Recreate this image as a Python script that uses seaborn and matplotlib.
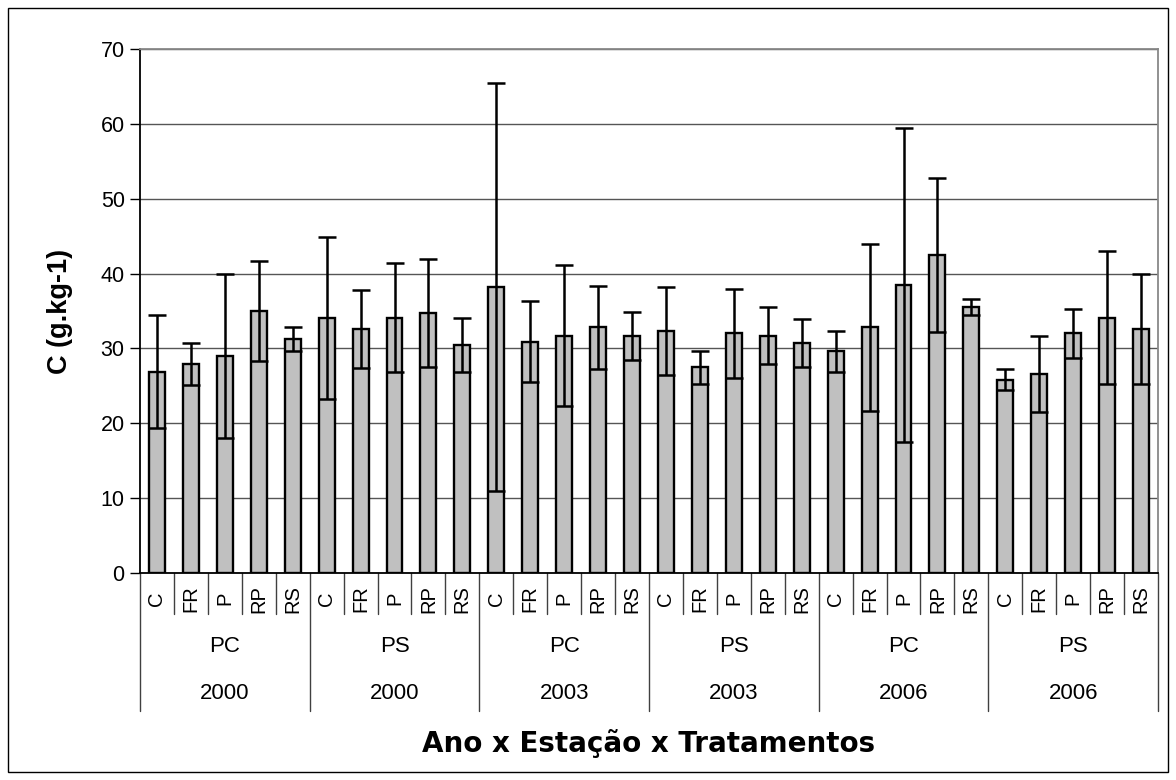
import matplotlib
matplotlib.use("Agg")
import matplotlib.pyplot as plt
import seaborn as sns
import pandas as pd
import numpy as np
from matplotlib.patches import Rectangle

years = ["2000", "2000", "2003", "2003", "2006", "2006"]
stations = ["PC", "PS", "PC", "PS", "PC", "PS"]
treatments = ["C", "FR", "P", "RP", "RS"]

values = [26.9, 27.9, 29.0, 35.0, 31.2,
          34.1, 32.6, 34.1, 34.7, 30.4,
          38.2, 30.9, 31.7, 32.8, 31.7,
          32.3, 27.5, 32.0, 31.7, 30.7,
          29.6, 32.8, 38.5, 42.5, 35.5,
          25.8, 26.6, 32.0, 34.1, 32.6]
errors = [7.5, 2.8, 10.9, 6.7, 1.6,
          10.8, 5.2, 7.3, 7.2, 3.6,
          27.2, 5.4, 9.4, 5.6, 3.2,
          5.9, 2.2, 5.9, 3.8, 3.2,
          2.7, 11.1, 21.0, 10.3, 1.1,
          1.4, 5.1, 3.3, 8.9, 7.3]

rows = []
for g, (yr, st) in enumerate(zip(years, stations)):
    for t, trt in enumerate(treatments):
        i = g * 5 + t
        rows.append({"key": f"{yr}-{st}-{g}-{trt}", "year": yr, "station": st,
                     "trt": trt, "value": values[i], "err": errors[i]})
df = pd.DataFrame(rows)

sns.set_theme(style="white")
plt.rcParams["font.family"] = ["Liberation Sans", "DejaVu Sans"]
for k in ["text.color", "axes.labelcolor", "xtick.color", "ytick.color"]:
    plt.rcParams[k] = "black"

fig = plt.figure(figsize=(11.76, 7.8), dpi=100)
ax = fig.add_axes([140 / 1176, 1 - 573 / 780, (1158 - 140) / 1176, (573 - 49) / 780])

sns.barplot(data=df, x="key", y="value", color="#c0c0c0", edgecolor="black",
            linewidth=1.7, width=0.47, errorbar=None, saturation=1, ax=ax, zorder=2)
xpos = np.arange(len(df))
ax.errorbar(xpos, df["value"], yerr=df["err"], fmt="none", ecolor="black",
            elinewidth=1.8, capsize=6.5, capthick=1.8, zorder=3)

ax.set_ylim(0, 70)
ax.set_xlim(-0.5, len(df) - 0.5)
ax.set_yticks(range(0, 71, 10))
ax.yaxis.grid(True, color="#555555", linewidth=1)
ax.set_axisbelow(True)
ax.tick_params(axis="y", which="major", left=True, length=7, width=1, color="black",
               labelsize=15.5, pad=4)
ax.set_xticks([])
ax.set_xlabel("")
ax.set_ylabel("C (g.kg-1)", fontsize=19.5, fontweight="bold")
ax.yaxis.set_label_coords((73 - 140) / 1018, 0.5)
for side in ["left", "bottom"]:
    ax.spines[side].set_color("black")
    ax.spines[side].set_linewidth(1.3)
for side in ["top", "right"]:
    ax.spines[side].set_color("#888888")
    ax.spines[side].set_linewidth(1.3)

trans = ax.get_xaxis_transform()
for b in range(len(df) + 1):
    x = b - 0.5
    if b % 5 == 0:
        ax.plot([x, x], [0, -0.263], transform=trans, color="#404040", lw=1, clip_on=False)
    else:
        ax.plot([x, x], [0, -0.079], transform=trans, color="#404040", lw=1, clip_on=False)

for i, r in df.iterrows():
    ax.text(i, -0.049, r["trt"], transform=trans, rotation=90, ha="center", va="center",
            fontsize=14.5)
for g in range(len(years)):
    xc = g * 5 + 2
    ax.text(xc, -0.140, stations[g], transform=trans, ha="center", va="center", fontsize=16)
    ax.text(xc, -0.230, years[g], transform=trans, ha="center", va="center", fontsize=16)

fig.text(0.5 * (140 + 1158) / 1176, 1 - 744 / 780, "Ano x Estação x Tratamentos",
         ha="center", va="center", fontsize=20, fontweight="bold", family="DejaVu Sans")

fig.patches.append(Rectangle((8 / 1176, 8 / 780), 1160 / 1176, 764 / 780,
                             transform=fig.transFigure, fill=False, edgecolor="black", lw=1))

fig.savefig("out.png", dpi=100)
